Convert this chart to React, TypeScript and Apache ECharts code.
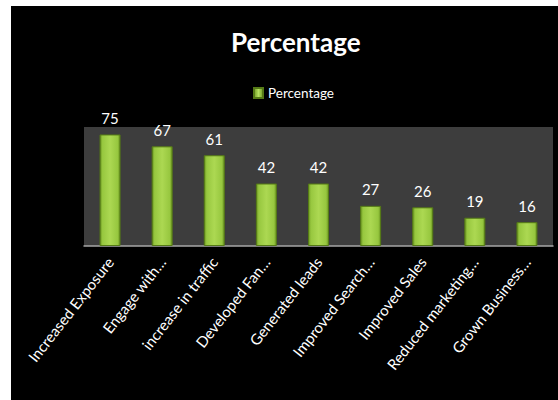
import React, { useEffect, useRef } from "react";
import * as echarts from "echarts";

const categories = [
  "Increased Exposure",
  "Engage with…",
  "increase in traffic",
  "Developed Fan…",
  "Generated leads",
  "Improved Search…",
  "Improved Sales",
  "Reduced marketing…",
  "Grown Business…",
];
const values = [75, 67, 61, 42, 42, 27, 26, 19, 16];
const seriesName = "Percentage";
const titleText = "Percentage";

const FONT = "Lato, 'Open Sans', sans-serif";

export default function App() {
  const ref = useRef<HTMLDivElement>(null);
  useEffect(() => {
    if (!ref.current) return;
    const chart = echarts.init(ref.current, undefined, { renderer: "svg" });
    const barGrad = new echarts.graphic.LinearGradient(0, 0, 1, 0, [
      { offset: 0, color: "#6a9520" },
      { offset: 0.12, color: "#97c73f" },
      { offset: 0.5, color: "#acd852" },
      { offset: 0.88, color: "#97c73f" },
      { offset: 1, color: "#6a9520" },
    ]);
    const legendGrad = new echarts.graphic.LinearGradient(0, 0, 1, 0, [
      { offset: 0, color: "#6e9a22" },
      { offset: 0.5, color: "#b5e060" },
      { offset: 1, color: "#6e9a22" },
    ]);
    chart.setOption({
      animation: false,
      backgroundColor: "#ffffff",
      graphic: [
        {
          type: "rect",
          left: 11,
          top: 6,
          z: -10,
          silent: true,
          shape: { width: 547, height: 394 },
          style: { fill: "#000000" },
        },
      ],
      title: {
        text: titleText,
        left: 226,
        top: 24,
        textStyle: {
          color: "#ffffff",
          fontFamily: FONT,
          fontWeight: "bold",
          fontSize: 26,
        },
      },
      legend: {
        left: 248,
        top: 81,
        itemWidth: 9,
        itemHeight: 10,
        itemGap: 5,
        icon: "rect",
        data: [{ name: seriesName, itemStyle: { color: legendGrad } }],
        textStyle: { color: "#ffffff", fontFamily: FONT, fontSize: 13.5 },
      },
      grid: {
        left: 84,
        right: 5,
        top: 127,
        bottom: 154,
        show: true,
        backgroundColor: "#3d3d3d",
        borderWidth: 0,
      },
      xAxis: {
        type: "category",
        data: categories,
        axisLine: { show: true, lineStyle: { color: "#a6a6a6", width: 1.5 } },
        axisTick: { show: false },
        axisLabel: {
          interval: 0,
          rotate: 52,
          margin: 13,
          color: "#ffffff",
          fontFamily: FONT,
          fontSize: 15,
        },
      },
      yAxis: {
        type: "value",
        min: 0,
        max: 80,
        interval: 10,
        show: false,
        splitLine: { show: false },
      },
      series: [
        {
          name: seriesName,
          type: "bar",
          data: values,
          barWidth: 21,
          itemStyle: {
            color: barGrad,
            borderColor: "#557a16",
            borderWidth: 1,
          },
          label: {
            show: true,
            position: "top",
            distance: 9,
            color: "#ffffff",
            fontFamily: FONT,
            fontSize: 15,
          },
        },
      ],
    });
    return () => chart.dispose();
  }, []);
  return (
    <div
      ref={ref}
      style={{ position: "absolute", left: 0, top: 0, width: 558, height: 400 }}
    />
  );
}
